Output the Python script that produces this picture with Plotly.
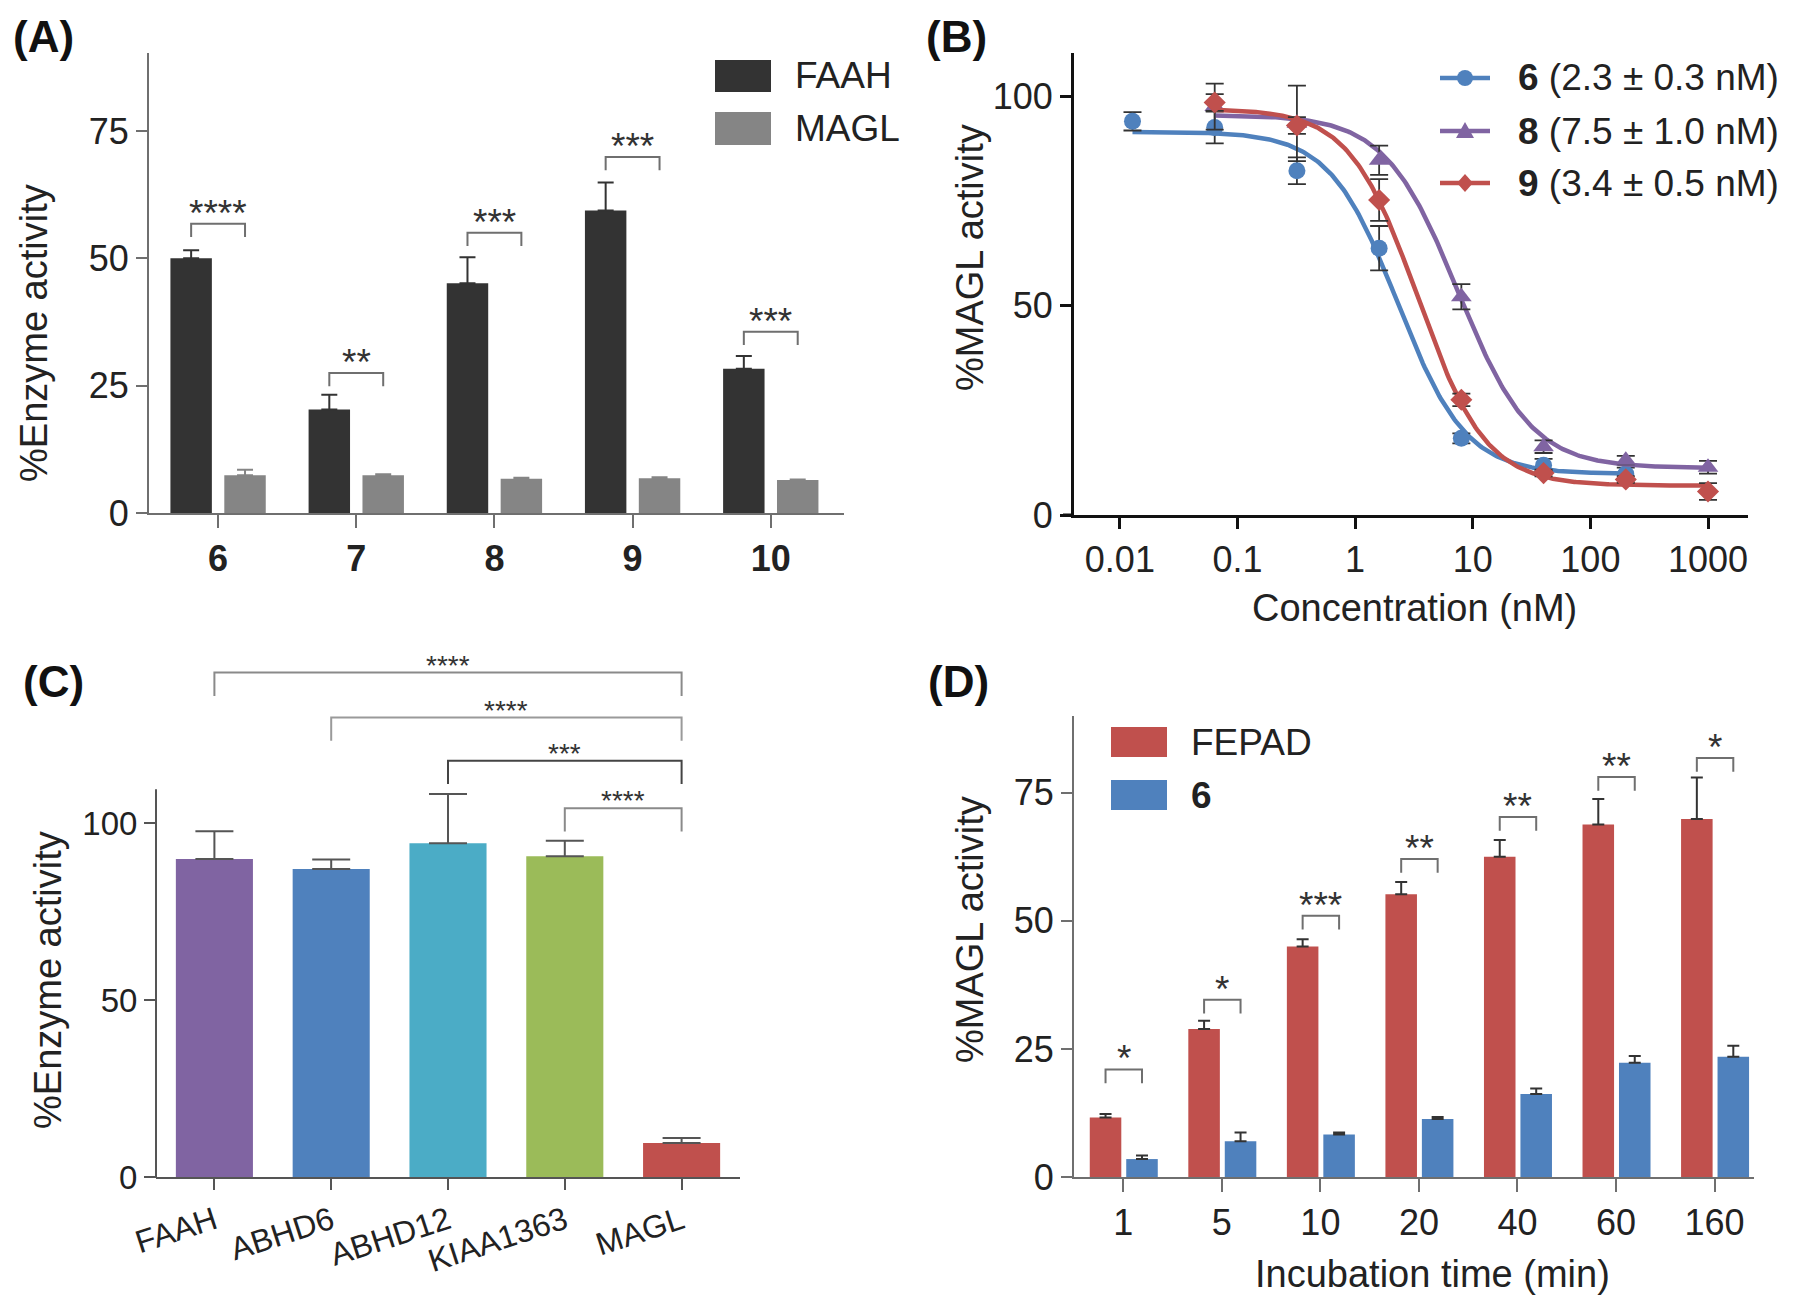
import numpy as np
import plotly.graph_objects as go

W, H = 1800, 1307
FONT = "Liberation Sans, Arial, sans-serif"

# ---------------- data ----------------
# Panel A
a_compounds = ["6", "7", "8", "9", "10"]
a_faah = [50.0, 20.3, 45.1, 59.4, 28.3]
a_faah_err = [1.6, 2.9, 5.1, 5.5, 2.5]
a_magl = [7.4, 7.4, 6.7, 6.8, 6.5]
a_magl_err = [1.1, 0.2, 0.2, 0.2, 0.1]
a_sig_top = [56.8, 27.5, 55.0, 69.9, 35.6]
a_sig_label = ["****", "**", "***", "***", "***"]

# Panel B
b_conc = [0.0128, 0.064, 0.32, 1.6, 8, 40, 200, 1000]
b_conc_6 = b_conc[:7]
b_6 = [94.0, 92.5, 82.2, 63.7, 18.3, 11.9, 9.8]
b_6_err = [2.2, 3.8, 3.2, 5.3, 1.2, 1.5, 1.5]
b_conc_8 = b_conc[1:]
b_8 = [97.5, 93.5, 84.7, 52.1, 16.3, 13.1, 11.4]
b_8_err = [5.5, 9.0, 3.5, 3.0, 1.5, 1.0, 1.5]
b_conc_9 = b_conc[1:]
b_9 = [98.5, 93.0, 75.2, 27.5, 10.0, 8.5, 5.6]
b_9_err = [2.0, 2.0, 5.0, 1.5, 0.8, 0.8, 2.0]
b_labels = ["6", "8", "9"]
b_ic50_text = ["(2.3 ± 0.3 nM)", "(7.5 ± 1.0 nM)", "(3.4 ± 0.5 nM)"]
# fitted four-parameter logistic curves (top, bottom, IC50, Hill slope)
b_fit_top = [91.5, 95.5, 97.0]
b_fit_bottom = [9.8, 11.2, 7.0]
b_fit_ic50 = [2.3, 7.5, 3.4]
b_fit_hill = [1.5, 1.4, 1.5]

# Panel C
c_enzymes = ["FAAH", "ABHD6", "ABHD12", "KIAA1363", "MAGL"]
c_vals = [89.8, 87.0, 94.3, 90.6, 9.6]
c_err = [7.9, 2.7, 13.9, 4.4, 1.4]
c_sig_left = [0, 1, 2, 3]
c_sig_right = [4, 4, 4, 4]
c_sig_top = [142.5, 129.8, 117.6, 104.2]
c_sig_label = ["****", "****", "***", "****"]

# Panel D
d_times = ["1", "5", "10", "20", "40", "60", "160"]
d_fepad = [11.6, 28.9, 45.0, 55.2, 62.5, 68.8, 69.9]
d_fepad_err = [0.7, 1.6, 1.4, 2.4, 3.3, 5.0, 8.1]
d_6 = [3.5, 7.0, 8.3, 11.3, 16.2, 22.3, 23.5]
d_6_err = [0.7, 1.7, 0.4, 0.4, 1.1, 1.3, 2.1]
d_sig_top = [21.0, 34.6, 51.0, 62.1, 70.3, 78.1, 81.8]
d_sig_label = ["*", "*", "***", "**", "**", "**", "*"]

# ---------------- styles ----------------
C_DARK = "#333333"
C_GRAY = "#858585"
C_BLUE = "#4f81bd"
C_PURPLE = "#8064a2"
C_RED = "#c0504d"
C_TEAL = "#4bacc6"
C_GREEN = "#9bbb59"
c_colors = [C_PURPLE, C_BLUE, C_TEAL, C_GREEN, C_RED]
TXT = "#222222"


def px_x(p):
    return p / W


def px_y(p):
    return 1 - p / H


fig = go.Figure()
shapes = []
annotations = []

# ---------- Panel A ----------
ax_idx = list(range(len(a_compounds)))
fig.add_trace(go.Bar(x=ax_idx, y=a_faah, width=0.3, offset=-0.345, marker_color=C_DARK,
                     marker_line_width=0, name="FAAH", showlegend=False,
                     error_y=dict(type="data", array=a_faah_err, arrayminus=[0] * 5, symmetric=False,
                                  color=C_DARK, thickness=2, width=8),
                     xaxis="x", yaxis="y"))
fig.add_trace(go.Bar(x=ax_idx, y=a_magl, width=0.3, offset=0.045, marker_color=C_GRAY,
                     marker_line_width=0, name="MAGL", showlegend=False,
                     error_y=dict(type="data", array=a_magl_err, arrayminus=[0] * 5, symmetric=False,
                                  color=C_GRAY, thickness=2, width=8),
                     xaxis="x", yaxis="y"))
for i, (top, lab) in enumerate(zip(a_sig_top, a_sig_label)):
    x0, x1 = i - 0.195, i + 0.195
    shapes.append(dict(type="path", xref="x", yref="y",
                       path=f"M {x0},{top-2.6} L {x0},{top} L {x1},{top} L {x1},{top-2.6}",
                       line=dict(color="#6f6f6f", width=2)))
    annotations.append(dict(x=i, y=top, xref="x", yref="y", text=lab, showarrow=False,
                            yanchor="bottom", yshift=-12, font=dict(size=37, color=C_DARK, family=FONT)))

# ---------- Panel B ----------
b_sets = [(b_conc_6, b_6, b_6_err, C_BLUE, "circle", 17),
          (b_conc_8, b_8, b_8_err, C_PURPLE, "triangle-up", 18),
          (b_conc_9, b_9, b_9_err, C_RED, "diamond", 17)]
for k, (cx, cy, ce, col, sym, ms) in enumerate(b_sets):
    xs = np.logspace(np.log10(cx[0]), np.log10(cx[-1]), 300)
    ys = b_fit_bottom[k] + (b_fit_top[k] - b_fit_bottom[k]) / (1 + (xs / b_fit_ic50[k]) ** b_fit_hill[k])
    fig.add_trace(go.Scatter(x=xs, y=ys, mode="lines", line=dict(color=col, width=4.5),
                             showlegend=False, xaxis="x2", yaxis="y2", hoverinfo="skip"))
    fig.add_trace(go.Scatter(x=cx, y=cy, mode="markers", name=b_labels[k],
                             marker=dict(color=col, symbol=sym, size=ms),
                             error_y=dict(type="data", array=ce, color="#333333", thickness=1.8, width=9),
                             showlegend=False, xaxis="x2", yaxis="y2"))

# manual legend for B (line + marker key + label)
b_leg_rows = [78, 131, 183]
b_leg_x0, b_leg_x1 = 1440, 1490
for k, row in enumerate(b_leg_rows):
    col = b_sets[k][3]
    shapes.append(dict(type="line", xref="paper", yref="paper", x0=px_x(b_leg_x0), x1=px_x(b_leg_x1),
                       y0=px_y(row), y1=px_y(row), line=dict(color=col, width=4.5)))
    cxm = (b_leg_x0 + b_leg_x1) / 2
    if k == 0:
        shapes.append(dict(type="circle", xref="paper", yref="paper", x0=px_x(cxm - 8), x1=px_x(cxm + 8),
                           y0=px_y(row + 8), y1=px_y(row - 8), fillcolor=col, line=dict(width=0)))
    elif k == 1:
        p = (f"M {px_x(cxm-9)},{px_y(row+7)} L {px_x(cxm+9)},{px_y(row+7)} "
             f"L {px_x(cxm)},{px_y(row-9)} Z")
        shapes.append(dict(type="path", xref="paper", yref="paper", path=p, fillcolor=col, line=dict(width=0)))
    else:
        p = (f"M {px_x(cxm-8)},{px_y(row)} L {px_x(cxm)},{px_y(row-9)} "
             f"L {px_x(cxm+8)},{px_y(row)} L {px_x(cxm)},{px_y(row+9)} Z")
        shapes.append(dict(type="path", xref="paper", yref="paper", path=p, fillcolor=col, line=dict(width=0)))
    annotations.append(dict(x=px_x(1516), y=px_y(row), xref="paper", yref="paper",
                            text=f"<b>{b_labels[k]}</b> {b_ic50_text[k]}", showarrow=False,
                            xanchor="left", yanchor="middle", font=dict(size=37, color=TXT, family=FONT)))

# ---------- Panel C ----------
c_idx = list(range(len(c_enzymes)))
fig.add_trace(go.Bar(x=c_idx, y=c_vals, width=0.66, marker_color=c_colors, marker_line_width=0,
                     showlegend=False,
                     error_y=dict(type="data", array=c_err, arrayminus=[0] * 5, symmetric=False,
                                  color="#555555", thickness=2, width=19),
                     xaxis="x3", yaxis="y3"))
shapes.append(dict(type="line", xref="x3 domain", yref="y3", x0=0, x1=0, y0=0, y1=109.5,
                   line=dict(color="#555555", width=2)))
c_line_cols = ["#8a8a8a", "#9a9a9a", "#444444", "#8a8a8a"]
for j, (l, r, top, lab) in enumerate(zip(c_sig_left, c_sig_right, c_sig_top, c_sig_label)):
    shapes.append(dict(type="path", xref="x3", yref="y3",
                       path=f"M {l},{top-6.6} L {l},{top} L {r},{top} L {r},{top-6.6}",
                       line=dict(color=c_line_cols[j], width=2)))
    annotations.append(dict(x=(l + r) / 2, y=top, xref="x3", yref="y3", text=lab, showarrow=False,
                            yanchor="bottom", yshift=-10, font=dict(size=28, color=C_DARK, family=FONT)))

# ---------- Panel D ----------
d_idx = list(range(len(d_times)))
fig.add_trace(go.Bar(x=d_idx, y=d_fepad, width=0.32, offset=-0.34, marker_color=C_RED, marker_line_width=0,
                     showlegend=False,
                     error_y=dict(type="data", array=d_fepad_err, arrayminus=[0] * 7, symmetric=False,
                                  color=C_DARK, thickness=2, width=6),
                     xaxis="x4", yaxis="y4"))
fig.add_trace(go.Bar(x=d_idx, y=d_6, width=0.32, offset=0.03, marker_color=C_BLUE, marker_line_width=0,
                     showlegend=False,
                     error_y=dict(type="data", array=d_6_err, arrayminus=[0] * 7, symmetric=False,
                                  color=C_DARK, thickness=2, width=6),
                     xaxis="x4", yaxis="y4"))
for i, (top, lab) in enumerate(zip(d_sig_top, d_sig_label)):
    x0, x1 = i - 0.18, i + 0.19
    shapes.append(dict(type="path", xref="x4", yref="y4",
                       path=f"M {x0},{top-2.7} L {x0},{top} L {x1},{top} L {x1},{top-2.7}",
                       line=dict(color="#6f6f6f", width=2)))
    annotations.append(dict(x=(x0 + x1) / 2, y=top, xref="x4", yref="y4", text=lab, showarrow=False,
                            yanchor="bottom", yshift=-12, font=dict(size=37, color=C_DARK, family=FONT)))


# ---------- manual legends (A and D) ----------
def legend_box(x0, x1, y0, y1, color, label):
    shapes.append(dict(type="rect", xref="paper", yref="paper", x0=px_x(x0), x1=px_x(x1),
                       y0=px_y(y1), y1=px_y(y0), fillcolor=color, line=dict(width=0)))
    annotations.append(dict(x=px_x(x1 + 22), y=px_y((y0 + y1) / 2), xref="paper", yref="paper",
                            text=label, showarrow=False, xanchor="left", yanchor="middle",
                            font=dict(size=37, color=TXT, family=FONT)))


legend_box(715, 771, 60, 92, C_DARK, "FAAH")
legend_box(715, 771, 112, 145, C_GRAY, "MAGL")
legend_box(1111, 1167, 727, 757, C_RED, "FEPAD")
legend_box(1111, 1167, 780, 810, C_BLUE, "<b>6</b>")

# small extension of x-axis lines left of the y-axes (GraphPad style)
for (xa, xb, yv, col, lw) in [(138, 149, 513, "#6f6f6f", 2), (1063, 1074, 515, "#111111", 3),
                              (145, 156, 1177, "#555555", 2), (1063, 1074, 1177, "#6f6f6f", 2)]:
    shapes.append(dict(type="line", xref="paper", yref="paper", x0=px_x(xa), x1=px_x(xb),
                       y0=px_y(yv), y1=px_y(yv), line=dict(color=col, width=lw)))

# ---------- panel labels ----------
for lab, x, y in [("(A)", 11, 10), ("(B)", 924, 10), ("(C)", 21, 655), ("(D)", 926, 655)]:
    annotations.append(dict(x=px_x(x), y=px_y(y), xref="paper", yref="paper", text=f"<b>{lab}</b>",
                            showarrow=False, xanchor="left", yanchor="top",
                            font=dict(size=44, color="#111111", family=FONT)))

# ---------- axis titles ----------
titlefont = dict(size=38, color=TXT, family=FONT)
for text, x, y, ang in [("%Enzyme activity", 34, 333, -90), ("%MAGL activity", 970, 258, -90),
                        ("%Enzyme activity", 48, 980, -90), ("%MAGL activity", 970, 930, -90),
                        ("Concentration (nM)", 1414, 608, 0), ("Incubation time (min)", 1432, 1274, 0)]:
    annotations.append(dict(x=px_x(x), y=px_y(y), xref="paper", yref="paper", text=text, textangle=ang,
                            showarrow=False, xanchor="center", yanchor="middle", font=titlefont))

# ---------------- axes ----------------
tickfont = dict(size=36, color=TXT, family=FONT)


def gray_axis(color="#6f6f6f"):
    return dict(showline=True, linecolor=color, linewidth=2, ticks="outside", ticklen=11,
                tickwidth=2, tickcolor=color, showgrid=False, zeroline=False, tickfont=tickfont,
                automargin=False)


layout = dict(
    template="none",
    width=W, height=H, margin=dict(l=0, r=0, t=0, b=0, pad=0, autoexpand=False),
    paper_bgcolor="white", plot_bgcolor="white",
    font=dict(family=FONT, color=TXT), showlegend=False,
    shapes=shapes, annotations=annotations,
)

# A
layout["xaxis"] = dict(gray_axis(), domain=[px_x(149), px_x(844)], range=[-0.5, 4.53],
                       tickvals=ax_idx, ticktext=[f"<b>{c}</b>" for c in a_compounds], anchor="y",
                       ticklen=13)
layout["yaxis"] = dict(gray_axis(), domain=[px_y(513), px_y(53)], range=[0, 90.3],
                       tickvals=[0, 25, 50, 75], anchor="x")
# B
layout["xaxis2"] = dict(gray_axis("#111111"), type="log", domain=[px_x(1074), px_x(1748)],
                        range=[-2.39, 3.34], tickvals=[0.01, 0.1, 1, 10, 100, 1000],
                        ticktext=["0.01", "0.1", "1", "10", "100", "1000"], anchor="y2",
                        linewidth=3, tickwidth=3)
layout["yaxis2"] = dict(gray_axis("#111111"), domain=[px_y(515), px_y(53)], range=[0, 110.3],
                        tickvals=[0, 50, 100], anchor="x2", linewidth=3, tickwidth=3)
# C
layout["xaxis3"] = dict(gray_axis("#555555"), domain=[px_x(156), px_x(740)], range=[-0.5, 4.5],
                        tickvals=c_idx, ticktext=c_enzymes, tickangle=-18, anchor="y3",
                        tickfont=dict(size=32, color=TXT, family=FONT))
layout["yaxis3"] = dict(gray_axis("#555555"), showline=False, domain=[px_y(1177), px_y(646)],
                        range=[0, 150], tickvals=[0, 50, 100], anchor="x3",
                        tickfont=dict(size=33, color=TXT, family=FONT))
# D
layout["xaxis4"] = dict(gray_axis(), domain=[px_x(1074), px_x(1754)], range=[-0.5, 6.4],
                        tickvals=d_idx, ticktext=d_times, anchor="y4", ticklen=13)
layout["yaxis4"] = dict(gray_axis(), domain=[px_y(1177), px_y(716)], range=[0, 90],
                        tickvals=[0, 25, 50, 75], anchor="x4")

fig.update_layout(**layout)
fig.write_html("out.html", config={"displayModeBar": False},
               post_script="document.body.style.margin='0';document.body.style.overflow='hidden';")
